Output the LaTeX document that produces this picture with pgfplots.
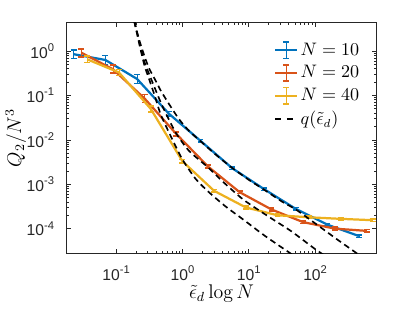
\documentclass[border=0pt]{standalone}
\usepackage{fontspec}
\usepackage{pgfplots}
\pgfplotsset{compat=1.18}
\usepackage{pgfplotstable}
\newfontfamily\hv{Liberation Sans}
\definecolor{mblue}{rgb}{0,0.447,0.741}
\definecolor{mred}{rgb}{0.85,0.325,0.098}
\definecolor{myel}{rgb}{0.929,0.694,0.125}
\newcommand{\tl}[1]{{\hv\fontsize{9.5}{11}\selectfont 10\raisebox{0.8ex}{\fontsize{6.8}{7}\selectfont #1}}}

\pgfplotstableread{
x y ep em
0.0229 0.85 0.26 0.206
0.0689 0.63 0.26 0.206
0.207 0.235 0.26 0.206
0.622 0.039 0.12 0.11
1.871 0.0095 0.07 0.065
5.62 0.0023 0.07 0.065
16.9 7.8e-4 0.07 0.065
50.8 2.8e-4 0.07 0.065
152.8 1.23e-4 0.07 0.065
459 6.8e-5 0.07 0.065
}\tblue
\pgfplotstableread{
x y ep em
0.0298 0.92 0.23 0.19
0.0895 0.39 0.23 0.19
0.269 0.085 0.23 0.19
0.809 0.0135 0.12 0.11
2.43 0.0025 0.07 0.065
7.31 6.6e-4 0.07 0.065
22.0 2.7e-4 0.07 0.065
66.1 1.4e-4 0.07 0.065
198.6 1.0e-4 0.07 0.065
597 8.9e-5 0.07 0.065
}\tred
\pgfplotstableread{
x y ep em
0.0367 0.65 0.175 0.149
0.110 0.33 0.175 0.149
0.332 0.05 0.175 0.149
0.998 0.0033 0.1 0.09
3.0 7.1e-4 0.07 0.065
9.02 3.0e-4 0.07 0.065
27.1 2.0e-4 0.07 0.065
81.5 1.8e-4 0.07 0.065
244.9 1.66e-4 0.07 0.065
736 1.55e-4 0.07 0.065
}\tyel
\pgfplotstableread{
x y
0.1738 7.80
0.1901 4.345
0.2239 1.738
0.2679 0.759
0.3162 0.398
0.3981 0.2089
0.4742 0.1259
0.631 0.0631
0.8933 0.02884
1.259 0.01585
1.837 0.00955
3.162 0.004677
5.572 0.002360
10 0.001259
16.56 7.745e-4
31.62 4.074e-4
50.8 2.723e-4
100 1.318e-4
218.3 5.623e-5
501.2 2.344e-5
}\qblue
\pgfplotstableread{
x y
0.1738 7.80
0.1901 4.345
0.2239 1.585
0.2679 0.5623
0.3565 0.1905
0.5012 0.05623
0.7943 0.01445
1.259 0.005623
2.432 0.002399
3.981 0.001175
8.337 4.467e-4
19.95 1.862e-4
43.85 8.71e-5
100 3.467e-5
158.5 2.188e-5
}\qred
\pgfplotstableread{
x y
0.1738 7.80
0.1901 4.345
0.2239 1.413
0.2679 0.4645
0.3006 0.2818
0.3802 0.1
0.4742 0.03597
0.7079 0.01
1 0.003597
1.581 0.001318
2.506 6.607e-4
4.467 3.162e-4
8.337 1.585e-4
17.78 6.761e-5
50.12 2.344e-5
}\qyel

\newcommand{\ebimg}[1]{\draw[#1,line width=1.3pt] (0pt,0pt) -- (13.4pt,0pt);
  \draw[#1,line width=1pt] (6.7pt,-5pt) -- (6.7pt,5pt);
  \draw[#1,line width=1pt] (4.9pt,-5pt) -- (8.5pt,-5pt);
  \draw[#1,line width=1pt] (4.9pt,5pt) -- (8.5pt,5pt);}

\begin{document}
\begin{tikzpicture}
\begin{axis}[
  scale only axis, width=187.8pt, height=139.8pt,
  xmode=log, ymode=log,
  xmin=0.01795, xmax=841, ymin=2.78e-5, ymax=4.345,
  axis line style={black!85, line width=0.4pt},
  tick style={black!85, line width=0.4pt},
  major tick length=2.6pt, minor tick length=1.6pt,
  xtick={0.1,1,10,100},
  xticklabels={\tl{-1},\tl{0},\tl{1},\tl{2}},
  ytick={1e-4,1e-3,1e-2,1e-1,1},
  yticklabels={\tl{-4},\tl{-3},\tl{-2},\tl{-1},\tl{0}},
  xticklabel style={black!85, anchor=base, yshift=-16.5pt},
  yticklabel style={black!85, anchor=east, inner sep=0pt, xshift=-7.5pt},
  xlabel={$\tilde{\epsilon}_d\log N$},
  ylabel={$Q_2/N^3$},
  xlabel style={at={(axis description cs:0.5,-0.195)}, anchor=base},
  ylabel style={at={(axis description cs:-0.147,0.5)}, anchor=base},
  label style={font=\fontsize{12}{14}\selectfont},
  legend style={draw=none, fill=none, at={(rel axis cs:0.664,0.93)}, anchor=north west,
    font=\fontsize{10.6}{12}\selectfont, row sep=2.4pt, inner sep=1pt,
    nodes={inner sep=1.2pt}},
  legend cell align=left,
]
\addplot[mblue, line width=1.35pt, legend image code/.code={\ebimg{mblue}},
  error bars/y dir=both, error bars/y explicit relative,
  error bars/error mark options={mblue, line width=1pt, mark size=1.8pt, rotate=90}]
  table[x=x,y=y,y error plus=ep,y error minus=em]{\tblue};
\addlegendentry{$N=10$}
\addplot[mred, line width=1.35pt, legend image code/.code={\ebimg{mred}},
  error bars/y dir=both, error bars/y explicit relative,
  error bars/error mark options={mred, line width=1pt, mark size=1.8pt, rotate=90}]
  table[x=x,y=y,y error plus=ep,y error minus=em]{\tred};
\addlegendentry{$N=20$}
\addplot[myel, line width=1.35pt, legend image code/.code={\ebimg{myel}},
  error bars/y dir=both, error bars/y explicit relative,
  error bars/error mark options={myel, line width=1pt, mark size=1.8pt, rotate=90}]
  table[x=x,y=y,y error plus=ep,y error minus=em]{\tyel};
\addlegendentry{$N=40$}
\addplot[black, line width=1pt, dash pattern=on 3.6pt off 2.4pt, smooth, tension=0.4,
  legend image code/.code={\draw[black,line width=1pt] (0pt,0pt) -- (3.6pt,0pt); \draw[black,line width=1pt] (7pt,0pt) -- (10.6pt,0pt);}]
  table[x=x,y=y]{\qblue};
\addlegendentry{$q(\tilde{\epsilon}_d)$}
\addplot[black, line width=1pt, dash pattern=on 3.6pt off 2.4pt, smooth, tension=0.4, forget plot]
  table[x=x,y=y]{\qred};
\addplot[black, line width=1pt, dash pattern=on 3.6pt off 2.4pt, smooth, tension=0.4, forget plot]
  table[x=x,y=y]{\qyel};
\end{axis}
\path ([xshift=-37.8pt,yshift=-33.6pt]current axis.south west) rectangle ([xshift=23.4pt,yshift=13.8pt]current axis.north east);
\end{tikzpicture}
\end{document}
